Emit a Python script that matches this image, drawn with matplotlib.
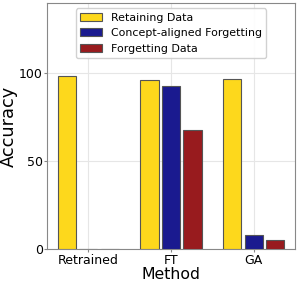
import numpy as np
import matplotlib.pyplot as plt

# Accuracy per method for each data split
methods = ["Retrained", "FT", "GA"]
retain_acc = [98.5, 96.0, 96.6]
concept_acc = [0.3, 92.8, 8.4]
forget_acc = [0.3, 67.8, 5.1]

labels = ["Retaining Data", "Concept-aligned Forgetting", "Forgetting Data"]
colors = ["#FDD81C", "#1A1A8F", "#981B1E"]

plt.rcParams['font.family'] = ['DejaVu Sans']

fig, ax = plt.subplots(figsize=(2.99, 2.86), dpi=100)

x = np.arange(len(methods))
w = 0.22
step = 0.26
for i, (vals, lab, c) in enumerate(zip([retain_acc, concept_acc, forget_acc], labels, colors)):
    ax.bar(x + (i - 1) * step, vals, width=w, color=c, edgecolor="#555555",
           linewidth=0.8, label=lab, zorder=3)

ax.set_xlim(-0.5, 2.5)
ax.set_ylim(0, 140)
ax.set_yticks([0, 50, 100])
ax.set_xticks(x)
ax.set_xticklabels(methods)
ax.tick_params(labelsize=9, length=2, color="#888888", pad=1)
ax.grid(True, color="#e6e6e6", linewidth=0.8, zorder=0)
for s in ax.spines.values():
    s.set_color("#888888")
ax.set_xlabel("Method", fontsize=11.3, labelpad=0)
ax.set_ylabel("Accuracy", fontsize=12.8, labelpad=1)
ax.legend(loc="upper center", fontsize=7.9, handlelength=2.0, handleheight=0.75,
          borderpad=0.4, labelspacing=0.5, framealpha=0.9, edgecolor="#cccccc",
          fancybox=True, bbox_to_anchor=(0.5, 1.0))

fig.subplots_adjust(left=0.157, right=0.987, top=0.99, bottom=0.128)
fig.savefig("out.png", dpi=100)
